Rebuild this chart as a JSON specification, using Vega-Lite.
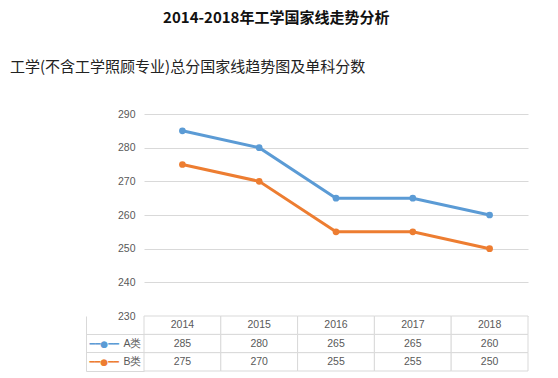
{
  "$schema": "https://vega.github.io/schema/vega-lite/v6.json",
  "background": "white",
  "padding": {"left": 10, "top": 11, "right": 5, "bottom": 0},
  "title": {"text": "2014-2018年工学国家线走势分析", "font": "Noto Sans CJK SC", "fontSize": 15, "fontWeight": "bold", "color": "#111111", "anchor": "middle", "offset": 34, "dx": 7},
  "datasets": {
    "scores": [
      {"year": "2014", "type": "A类", "score": 285},
      {"year": "2015", "type": "A类", "score": 280},
      {"year": "2016", "type": "A类", "score": 265},
      {"year": "2017", "type": "A类", "score": 265},
      {"year": "2018", "type": "A类", "score": 260},
      {"year": "2014", "type": "B类", "score": 275},
      {"year": "2015", "type": "B类", "score": 270},
      {"year": "2016", "type": "B类", "score": 255},
      {"year": "2017", "type": "B类", "score": 255},
      {"year": "2018", "type": "B类", "score": 250}
    ],
    "years": [
      {"year": "2014", "row": "年份"},
      {"year": "2015", "row": "年份"},
      {"year": "2016", "row": "年份"},
      {"year": "2017", "row": "年份"},
      {"year": "2018", "row": "年份"}
    ]
  },
  "spacing": 0,
  "bounds": "flush",
  "vconcat": [
    {
      "title": {"text": "工学(不含工学照顾专业)总分国家线趋势图及单科分数", "anchor": "start", "frame": "group", "dx": -134, "fontSize": 15, "fontWeight": "normal", "font": "Noto Sans CJK SC", "color": "#222222", "offset": 34},
      "width": 384,
      "height": 202,
      "data": {"name": "scores"},
      "mark": {"type": "line", "strokeWidth": 3, "point": {"filled": true, "size": 45}},
      "encoding": {
        "x": {"field": "year", "type": "ordinal", "scale": {"type": "point", "padding": 0.5}, "axis": null},
        "y": {"field": "score", "type": "quantitative", "scale": {"domain": [230, 290], "nice": false, "zero": false},
          "axis": {"values": [230, 240, 250, 260, 270, 280, 290], "title": null, "domain": false, "ticks": false, "labelPadding": 9, "gridColor": "#d9d9d9", "labelColor": "#595959", "labelFontSize": 10.5, "labelFont": "Liberation Sans"}},
        "color": {"field": "type", "type": "nominal", "scale": {"domain": ["A类", "B类"], "range": ["#5b9bd5", "#ed7d31"]}, "legend": null}
      }
    },
    {
      "width": 384,
      "height": 55,
      "layer": [
        {
          "data": {"name": "scores"},
          "mark": {"type": "rect", "fill": "white", "stroke": "#d9d9d9", "strokeWidth": 1},
          "encoding": {
            "x": {"field": "year", "type": "ordinal", "scale": {"type": "band", "paddingInner": 0, "paddingOuter": 0}, "axis": null},
            "y": {"field": "type", "type": "nominal", "scale": {"domain": ["年份", "A类", "B类"], "paddingInner": 0, "paddingOuter": 0},
              "axis": {"orient": "left", "title": null, "offset": 58, "domain": true, "domainColor": "#d9d9d9", "ticks": true, "tickSize": -58, "tickColor": "#d9d9d9", "bandPosition": 1, "labelExpr": "datum.value == '年份' ? '' : datum.value", "labelPadding": 3, "labelColor": "#595959", "labelFontSize": 10.5, "labelFont": "Liberation Sans", "grid": false}}
          }
        },
        {
          "data": {"name": "scores"},
          "mark": {"type": "text", "font": "Liberation Sans", "fontSize": 10.5, "color": "#595959"},
          "encoding": {
            "x": {"field": "year", "type": "ordinal", "axis": null},
            "y": {"field": "type", "type": "nominal", "axis": null},
            "text": {"field": "score", "type": "quantitative"}
          }
        },
        {
          "data": {"name": "years"},
          "mark": {"type": "rect", "fill": "white", "stroke": "#d9d9d9", "strokeWidth": 1},
          "encoding": {
            "x": {"field": "year", "type": "ordinal", "axis": null},
            "y": {"field": "row", "type": "nominal",
              "axis": {"orient": "left", "title": null, "offset": 58, "domain": false, "ticks": true, "tickSize": 0, "tickColor": "transparent", "labelExpr": "datum.value == '年份' ? '' : '━━●━━'", "labelAlign": "left", "labelPadding": -3, "labelFont": "DejaVu Sans", "labelFontSize": 9, "labelColor": {"condition": {"test": "datum.value == 'A类'", "value": "#5b9bd5"}, "value": "#ed7d31"}, "grid": false}}
          }
        },
        {
          "data": {"name": "years"},
          "mark": {"type": "text", "font": "Liberation Sans", "fontSize": 10.5, "color": "#595959"},
          "encoding": {
            "x": {"field": "year", "type": "ordinal", "axis": null},
            "y": {"field": "row", "type": "nominal", "axis": null},
            "text": {"field": "year", "type": "nominal"}
          }
        }
      ],
      "resolve": {"axis": {"y": "independent"}}
    }
  ],
  "config": {"view": {"stroke": null}}
}
